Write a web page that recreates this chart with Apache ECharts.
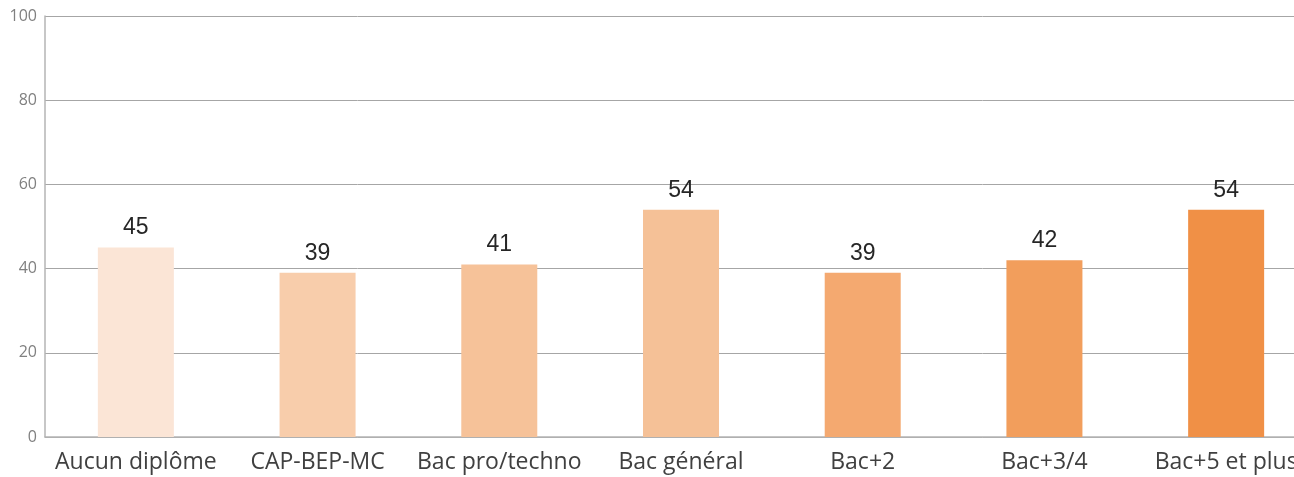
<!DOCTYPE html>
<html>
<head>
<meta charset="utf-8">
<script src="https://cdn.jsdelivr.net/npm/echarts@6/dist/echarts.min.js"></script>
<style>
html,body{margin:0;padding:0;background:#fff;}
#c{width:1294px;height:477px;}
</style>
</head>
<body>
<div id="c"></div>
<script>
const categories = ["Aucun diplôme", "CAP-BEP-MC", "Bac pro/techno", "Bac général", "Bac+2", "Bac+3/4", "Bac+5 et plus"];
const values = [45, 39, 41, 54, 39, 42, 54];
const barColors = ["#FBE5D6", "#F8CDAB", "#F6C299", "#F5C197", "#F4A970", "#F29E5C", "#F09046"];
const yTicks = [0, 20, 40, 60, 80, 100];

const chart = echarts.init(document.getElementById('c'), null, {renderer: 'canvas'});
chart.setOption({
  animation: false,
  backgroundColor: '#ffffff',
  grid: {left: 45, width: 1272, top: 16, bottom: 40, containLabel: false, outerBoundsMode: 'none'},
  xAxis: {
    type: 'category',
    data: categories,
    axisLine: {show: true, lineStyle: {color: '#b4b4b4', width: 1.5}},
    axisTick: {show: false},
    axisLabel: {color: '#404040', fontSize: 23, fontFamily: 'Open Sans', margin: 14, interval: 0, hideOverlap: false}
  },
  yAxis: {
    type: 'value',
    min: yTicks[0],
    max: yTicks[yTicks.length - 1],
    interval: 20,
    axisLine: {show: true, lineStyle: {color: '#b4b4b4', width: 1.5}},
    axisTick: {show: false},
    axisLabel: {color: '#808080', fontSize: 16, fontFamily: 'Open Sans', margin: 8},
    splitLine: {show: true, lineStyle: {color: '#a6a6a6', width: 1}}
  },
  series: [{
    type: 'bar',
    barWidth: 76,
    data: values.map((v, i) => ({value: v, itemStyle: {color: barColors[i]}})),
    label: {show: true, position: 'top', distance: 8, color: '#262626', fontSize: 23, fontFamily: 'Liberation Sans'}
  }]
});
</script>
</body>
</html>
